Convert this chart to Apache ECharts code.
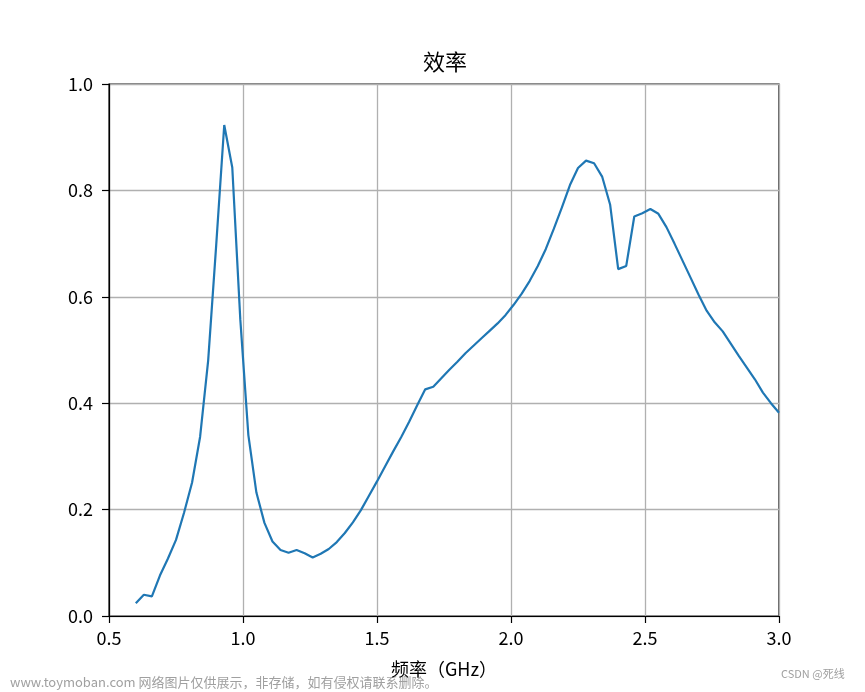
<!DOCTYPE html>
<html>
<head>
<meta charset="utf-8">
<script src="https://cdn.jsdelivr.net/npm/echarts@6/dist/echarts.min.js"></script>
<style>
html,body{margin:0;padding:0;background:#fff;}
#chart{width:865px;height:692px;}
</style>
</head>
<body>
<div id="chart"></div>
<script>
var titleText = '效率';
var xAxisName = '频率（GHz）';
var xTicks = [0.5, 1.0, 1.5, 2.0, 2.5, 3.0];
var yTicks = [0.0, 0.2, 0.4, 0.6, 0.8, 1.0];

var freq = [
  0.60, 0.63, 0.66, 0.69, 0.72, 0.75, 0.78, 0.81, 0.84, 0.87,
  0.90, 0.93, 0.96, 0.99, 1.02, 1.05, 1.08, 1.11, 1.14, 1.17,
  1.20, 1.23, 1.26, 1.29, 1.32, 1.35, 1.38, 1.41, 1.44, 1.47,
  1.50, 1.53, 1.56, 1.59, 1.62, 1.65, 1.68, 1.71, 1.74, 1.77,
  1.80, 1.83, 1.86, 1.89, 1.92, 1.95, 1.98, 2.01, 2.04, 2.07,
  2.10, 2.13, 2.16, 2.19, 2.22, 2.25, 2.28, 2.31, 2.34, 2.37,
  2.40, 2.43, 2.46, 2.49, 2.52, 2.55, 2.58, 2.61, 2.64, 2.67,
  2.70, 2.73, 2.76, 2.79, 2.82, 2.85, 2.88, 2.91, 2.94, 2.97,
  3.00
];
var efficiency = [
  0.024, 0.040, 0.037, 0.076, 0.108, 0.143, 0.194, 0.251, 0.337, 0.480,
  0.697, 0.923, 0.843, 0.557, 0.340, 0.232, 0.175, 0.140, 0.124, 0.119,
  0.124, 0.118, 0.110, 0.117, 0.126, 0.139, 0.156, 0.176, 0.199, 0.226,
  0.253, 0.281, 0.309, 0.336, 0.365, 0.396, 0.426, 0.431, 0.447, 0.463,
  0.478, 0.494, 0.508, 0.522, 0.536, 0.550, 0.566, 0.585, 0.606, 0.630,
  0.658, 0.690, 0.728, 0.768, 0.810, 0.842, 0.856, 0.851, 0.826, 0.773,
  0.652, 0.658, 0.751, 0.757, 0.765, 0.756, 0.731, 0.700, 0.668, 0.636,
  0.604, 0.574, 0.552, 0.535, 0.512, 0.489, 0.467, 0.445, 0.420, 0.400,
  0.382
];

var watermarkLeft = 'www.toymoban.com 网络图片仅供展示，非存储，如有侵权请联系删除。';
var watermarkRight = 'CSDN @死线';

var seriesData = freq.map(function (f, i) { return [f, efficiency[i]]; });
var FONT = '"Microsoft YaHei", "Noto Sans CJK SC", sans-serif';

var chart = echarts.init(document.getElementById('chart'), null, {renderer: 'canvas'});
chart.setOption({
  backgroundColor: '#ffffff',
  animation: false,
  title: {
    text: titleText,
    left: 418,
    top: 46,
    textStyle: {fontFamily: FONT, fontSize: 22, fontWeight: 'normal', color: '#000'}
  },
  grid: {
    left: 109, right: 86, top: 84, bottom: 76,
    show: true, borderColor: '#000', borderWidth: 1.2, backgroundColor: 'transparent'
  },
  xAxis: {
    type: 'value',
    min: xTicks[0], max: xTicks[xTicks.length - 1], interval: 0.5,
    name: xAxisName,
    nameLocation: 'middle',
    nameGap: 44,
    nameTextStyle: {fontFamily: FONT, fontSize: 18, color: '#000'},
    axisLine: {show: true, onZero: false, lineStyle: {color: '#000', width: 1.2}},
    axisTick: {show: true, inside: false, length: 7, lineStyle: {color: '#000', width: 1.2}},
    axisLabel: {
      fontFamily: FONT, fontSize: 18, color: '#000', margin: 13,
      formatter: function (v) { return v.toFixed(1); }
    },
    splitLine: {show: true, lineStyle: {color: '#b0b0b0', width: 1.3}}
  },
  yAxis: {
    type: 'value',
    min: yTicks[0], max: yTicks[yTicks.length - 1], interval: 0.2,
    axisLine: {show: true, lineStyle: {color: '#000', width: 1.2}},
    axisTick: {show: true, inside: false, length: 7, lineStyle: {color: '#000', width: 1.2}},
    axisLabel: {
      fontFamily: FONT, fontSize: 18, color: '#000', margin: 16,
      formatter: function (v) { return v.toFixed(1); }
    },
    splitLine: {show: true, lineStyle: {color: '#b0b0b0', width: 1.3}}
  },
  series: [{
    type: 'line',
    data: seriesData,
    showSymbol: false,
    smooth: false,
    lineStyle: {color: '#1f77b4', width: 2.2},
    itemStyle: {color: '#1f77b4'}
  }],
  graphic: [
    {type: 'text', left: 10, top: 676,
     style: {text: watermarkLeft, fill: '#a0a0a0', font: '13px ' + FONT}},
    {type: 'text', left: 781, top: 668,
     style: {text: watermarkRight, fill: '#a0a0a0', font: '11px ' + FONT}}
  ]
});
</script>
</body>
</html>
